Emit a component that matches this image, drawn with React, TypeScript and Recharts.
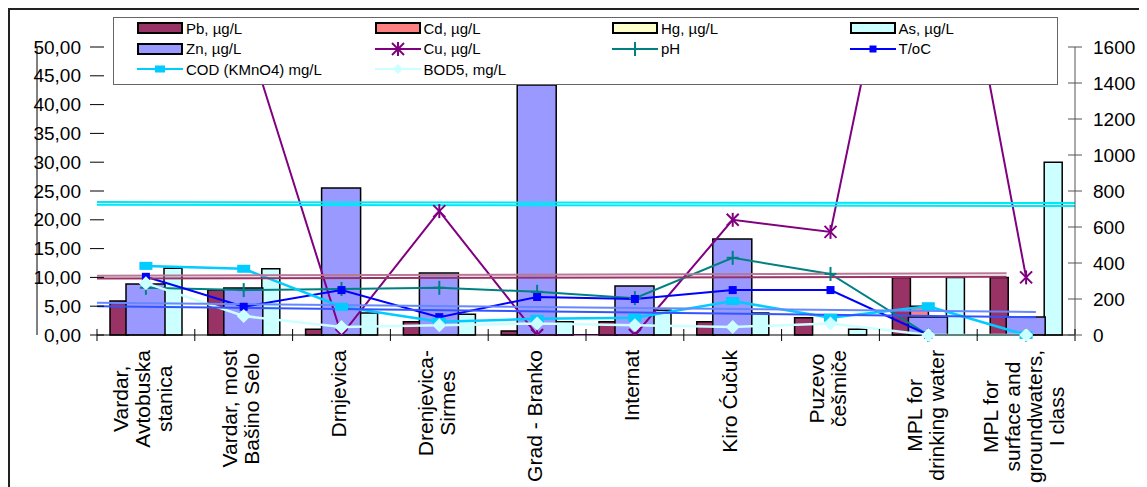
import React from "react";
import { ComposedChart, Bar, Line, XAxis, YAxis, Legend } from "recharts";

// sampling sites + the two limit columns
const categories = [
  "Vardar,\nAvtobuska\nstanica",
  "Vardar, most\nBašino Selo",
  "Drnjevica",
  "Drenjevica-\nSirmes",
  "Grad - Branko",
  "Internat",
  "Kiro Ćučuk",
  "Puzevo\nčešmiče",
  "MPL for\ndrinking water",
  "MPL for\nsurface and\ngroundwaters,\nI class",
];

// µg/L, left axis
const pb = [5.9, 7.8, 1.0, 2.3, 0.7, 2.3, 2.3, 3.0, 10, 10];
const cd = [0, 0, 0, 0, 0, 0, 0, 0, 5, 0];
const hg = [0, 0, 0, 0, 0, 0, 0, 0, 1, 0];
const arsenic = [11.6, 11.5, 3.8, 3.6, 2.3, 4.3, 3.8, 1.0, 10, 30];
const cu = [60, 54, 0, 21.5, 0, 0, 20, 17.9, 100, 10];
// µg/L, right axis
const zn = [283, 261, 816, 344, 1389, 272, 533, 0, 100, 100];
// other parameters, left axis
const ph = [8.2, 7.8, 8.0, 8.2, 7.5, 6.4, 13.4, 10.6, 0, 0];
const temp = [10.1, 4.9, 7.8, 3.1, 6.6, 6.25, 7.8, 7.8, 0, 0];
const cod = [12.0, 11.5, 4.9, 2.3, 2.8, 3.0, 5.9, 3.0, 5.0, 0];
const bod = [9.0, 3.3, 1.4, 1.7, 2.0, 1.7, 1.4, 2.0, 0, 0];

const leftTicks = [0, 5, 10, 15, 20, 25, 30, 35, 40, 45, 50];
const rightTicks = [0, 200, 400, 600, 800, 1000, 1200, 1400, 1600];

// stray straight lines across the plot: start/end value (left axis) and extent in % of width
const cyanUpper = [23.1, 22.9];
const cyanLower = [22.6, 22.4];
const maroonLight = [10.3, 10.7];
const maroonDark = [9.8, 10.1];
const blueLight = [5.6, 4.0];
const blueDark = [5.0, 3.1];
const fullSpan = [0, 100];
const maroonSpan = [0, 93];
const blueSpan = [0, 96];

const rows = categories.map((name, i) => ({
  name,
  pb: pb[i],
  cd: cd[i],
  hg: hg[i],
  as: arsenic[i],
  zn: zn[i],
  cu: cu[i],
  ph: ph[i],
  t: temp[i],
  cod: cod[i],
  bod: bod[i],
}));

const seg = (vals: number[], span: number[]) => [
  { p: span[0], v: vals[0] },
  { p: span[1], v: vals[1] },
];

const guides = [
  { id: "g1", color: "#00E8F8", data: seg(cyanUpper, fullSpan) },
  { id: "g2", color: "#00E8F8", data: seg(cyanLower, fullSpan) },
  { id: "g3", color: "#B87896", data: seg(maroonLight, maroonSpan) },
  { id: "g4", color: "#993366", data: seg(maroonDark, maroonSpan) },
  { id: "g5", color: "#6688FF", data: seg(blueLight, blueSpan) },
  { id: "g6", color: "#3355FF", data: seg(blueDark, blueSpan) },
];

const FONT = "Arial, 'Liberation Sans', sans-serif";
const W = 1132;
const H = 477;
const PLOT_LEFT = 87;
const PLOT_TOP = 37;
const PLOT_W = 978;
const PLOT_H = 288;
const PLOT_RIGHT = PLOT_LEFT + PLOT_W;
const PLOT_BOTTOM = PLOT_TOP + PLOT_H;
const BAND = PLOT_W / categories.length;
const AXIS_FS = 19;
const LABEL_FS = 21;
const LABEL_LH = 22;

let ctx: CanvasRenderingContext2D | null = null;
function textWidth(s: string, font: string) {
  if (!ctx) ctx = document.createElement("canvas").getContext("2d");
  if (!ctx) return s.length * 10;
  ctx.font = font;
  return ctx.measureText(s).width;
}

const fmtLeft = (v: number) => v.toFixed(2).replace(".", ",");

const LeftTick = (p: any) => {
  const { y, payload } = p;
  return (
    <g>
      <line x1={PLOT_LEFT - 7} x2={PLOT_LEFT + 7} y1={y} y2={y} stroke="#000" />
      <text x={PLOT_LEFT - 16} y={y} textAnchor="end" dominantBaseline="central" fontSize={AXIS_FS} fontFamily={FONT} fill="#000">
        {fmtLeft(payload.value)}
      </text>
    </g>
  );
};

const RightTick = (p: any) => {
  const { y, payload } = p;
  return (
    <g>
      <line x1={PLOT_RIGHT - 7} x2={PLOT_RIGHT + 7} y1={y} y2={y} stroke="#555" />
      <text x={PLOT_RIGHT + 18} y={y} textAnchor="start" dominantBaseline="central" fontSize={AXIS_FS} fontFamily={FONT} fill="#000">
        {payload.value}
      </text>
    </g>
  );
};

const CategoryTick = (p: any) => {
  const { x, payload } = p;
  const index = p.index ?? payload.index;
  const lines = String(payload.value).split("\n");
  const font = `${LABEL_FS}px ${FONT}`;
  const maxW = Math.max(...lines.map((l) => textWidth(l, font)));
  const n = lines.length;
  return (
    <g>
      <line x1={x - BAND / 2} x2={x - BAND / 2} y1={PLOT_BOTTOM - 6} y2={PLOT_BOTTOM + 6} stroke="#000" />
      {index === categories.length - 1 && (
        <line x1={x + BAND / 2} x2={x + BAND / 2} y1={PLOT_BOTTOM - 6} y2={PLOT_BOTTOM + 6} stroke="#000" />
      )}
      <g transform={`translate(${x - 3},${PLOT_BOTTOM}) rotate(-90)`}>
        {lines.map((l, i) => (
          <text
            key={i}
            x={-(15 + maxW / 2)}
            y={(i - (n - 1) / 2) * LABEL_LH}
            textAnchor="middle"
            dominantBaseline="central"
            fontSize={LABEL_FS}
            fontFamily={FONT}
            fill="#000"
          >
            {l}
          </text>
        ))}
      </g>
    </g>
  );
};

// markers
const asterisk = (p: any) => {
  const { cx, cy, index } = p;
  if (cx == null || cy == null) return <g key={`cu-${index}`} />;
  return (
    <g key={`cu-${index}`} stroke="#800080" strokeWidth={2}>
      <line x1={cx - 6} y1={cy - 6} x2={cx + 6} y2={cy + 6} />
      <line x1={cx - 6} y1={cy + 6} x2={cx + 6} y2={cy - 6} />
      <line x1={cx} y1={cy - 7} x2={cx} y2={cy + 7} />
    </g>
  );
};
const plus = (p: any) => {
  const { cx, cy, index } = p;
  return (
    <g key={`ph-${index}`} stroke="#008080" strokeWidth={2}>
      <line x1={cx - 6} y1={cy} x2={cx + 6} y2={cy} />
      <line x1={cx} y1={cy - 7} x2={cx} y2={cy + 7} />
    </g>
  );
};
const squareT = (p: any) => {
  const { cx, cy, index } = p;
  return <rect key={`t-${index}`} x={cx - 4} y={cy - 4} width={8} height={8} fill="#0000FF" />;
};
const squareCod = (p: any) => {
  const { cx, cy, index } = p;
  return <rect key={`cod-${index}`} x={cx - 6.5} y={cy - 4} width={13} height={8} fill="#00CCFF" />;
};
const diamond = (p: any) => {
  const { cx, cy, index } = p;
  return (
    <path key={`bod-${index}`} d={`M${cx},${cy - 7}L${cx + 7},${cy}L${cx},${cy + 7}L${cx - 7},${cy}Z`} fill="#CCFFFF" />
  );
};

type LegendEntry = { name: string; kind: "bar" | "line"; color: string; marker?: string };
const legendEntries: LegendEntry[] = [
  { name: "Pb, µg/L", kind: "bar", color: "#993366" },
  { name: "Cd, µg/L", kind: "bar", color: "#FF8080" },
  { name: "Hg, µg/L", kind: "bar", color: "#FFFFCC" },
  { name: "As, µg/L", kind: "bar", color: "#CCFFFF" },
  { name: "Zn, µg/L", kind: "bar", color: "#9999FF" },
  { name: "Cu, µg/L", kind: "line", color: "#800080", marker: "asterisk" },
  { name: "pH", kind: "line", color: "#008080", marker: "plus" },
  { name: "T/oC", kind: "line", color: "#0000FF", marker: "square" },
  { name: "COD (KMnO4) mg/L", kind: "line", color: "#00CCFF", marker: "rect" },
  { name: "BOD5, mg/L", kind: "line", color: "#CCFFFF", marker: "diamond" },
];

const LegendIcon = ({ e }: { e: LegendEntry }) => {
  if (e.kind === "bar") {
    return (
      <svg width={46} height={14}>
        <rect x={1} y={2} width={44} height={10} fill={e.color} stroke="#000" strokeWidth={2} />
      </svg>
    );
  }
  const cx = 23;
  const cy = 7;
  let m: React.ReactNode = null;
  if (e.marker === "asterisk") m = asterisk({ cx, cy, index: "l" });
  if (e.marker === "plus") m = plus({ cx, cy, index: "l" });
  if (e.marker === "square") m = <rect x={cx - 3.5} y={cy - 3.5} width={7} height={7} fill={e.color} />;
  if (e.marker === "rect") m = <rect x={cx - 5} y={cy - 3.5} width={10} height={7} fill={e.color} />;
  if (e.marker === "diamond") m = <path d={`M${cx},${cy - 5}L${cx + 5},${cy}L${cx},${cy + 5}L${cx - 5},${cy}Z`} fill={e.color} />;
  return (
    <svg width={46} height={14}>
      <line x1={0} x2={46} y1={cy} y2={cy} stroke={e.color} strokeWidth={2} />
      {m}
    </svg>
  );
};

const renderLegend = () => (
  <div
    style={{
      position: "relative",
      width: 945,
      height: 68,
      background: "#fff",
      border: "1px solid #666",
      boxSizing: "border-box",
      fontFamily: FONT,
      fontSize: 15,
      color: "#000",
    }}
  >
    {legendEntries.map((e, i) => {
      const col = i % 4;
      const row = Math.floor(i / 4);
      return (
        <div
          key={e.name}
          style={{
            position: "absolute",
            left: 23 + col * 237.5,
            top: 0 + row * 20.5,
            height: 20,
            display: "flex",
            alignItems: "center",
            whiteSpace: "nowrap",
          }}
        >
          <LegendIcon e={e} />
          <span style={{ marginLeft: 3 }}>{e.name}</span>
        </div>
      );
    })}
  </div>
);

export default function App() {
  return (
    <div
      style={{
        position: "relative",
        width: W + 4,
        height: H + 4,
        border: "2px solid #222",
        boxSizing: "border-box",
        background: "#fff",
        fontFamily: FONT,
      }}
    >
      <ComposedChart
        width={W}
        height={H}
        data={rows}
        margin={{ top: PLOT_TOP, right: 0, bottom: 0, left: 0 }}
        barGap={0}
      >
        <XAxis
          xAxisId="main"
          dataKey="name"
          height={H - PLOT_TOP - PLOT_H}
          interval={0}
          tickLine={false}
          axisLine={{ stroke: "#000" }}
          tick={CategoryTick}
        />
        <XAxis xAxisId="zn" dataKey="name" hide />
        <XAxis xAxisId="pct" type="number" dataKey="p" domain={[0, 100]} allowDataOverflow hide />
        <YAxis
          yAxisId="left"
          orientation="left"
          width={PLOT_LEFT}
          domain={[0, 50]}
          ticks={leftTicks}
          interval={0}
          tickLine={false}
          axisLine={{ stroke: "#000" }}
          tick={LeftTick}
        />
        <YAxis
          yAxisId="right"
          orientation="right"
          width={W - PLOT_RIGHT}
          domain={[0, 1600]}
          ticks={rightTicks}
          interval={0}
          tickLine={false}
          axisLine={{ stroke: "#555" }}
          tick={RightTick}
        />
        <YAxis yAxisId="cu" domain={[0, 50]} allowDataOverflow hide />

        <Bar xAxisId="main" yAxisId="left" dataKey="pb" fill="#993366" stroke="#000" strokeWidth={1.5} barSize={18} isAnimationActive={false} />
        <Bar xAxisId="main" yAxisId="left" dataKey="cd" fill="#FF8080" stroke="#000" strokeWidth={1.5} barSize={18} isAnimationActive={false} />
        <Bar xAxisId="main" yAxisId="left" dataKey="hg" fill="#FFFFCC" stroke="#000" strokeWidth={1.5} barSize={18} isAnimationActive={false} />
        <Bar xAxisId="main" yAxisId="left" dataKey="as" fill="#CCFFFF" stroke="#000" strokeWidth={1.5} barSize={18} isAnimationActive={false} />
        <Bar xAxisId="zn" yAxisId="right" dataKey="zn" fill="#9999FF" stroke="#000" strokeWidth={1.5} barSize={39} isAnimationActive={false} />

        <Line xAxisId="main" yAxisId="cu" dataKey="cu" stroke="#800080" strokeWidth={2} dot={asterisk} isAnimationActive={false} />
        <Line xAxisId="main" yAxisId="left" dataKey="ph" stroke="#008080" strokeWidth={2} dot={plus} isAnimationActive={false} />
        <Line xAxisId="main" yAxisId="left" dataKey="t" stroke="#0000FF" strokeWidth={2} dot={squareT} isAnimationActive={false} />
        <Line xAxisId="main" yAxisId="left" dataKey="cod" stroke="#00CCFF" strokeWidth={2.5} dot={squareCod} isAnimationActive={false} />
        <Line xAxisId="main" yAxisId="left" dataKey="bod" stroke="#CCFFFF" strokeWidth={2.5} dot={diamond} isAnimationActive={false} />

        {guides.map((g) => (
          <Line
            key={g.id}
            xAxisId="pct"
            yAxisId="left"
            data={g.data}
            dataKey="v"
            stroke={g.color}
            strokeWidth={2}
            dot={false}
            isAnimationActive={false}
          />
        ))}

        <Legend
          layout="horizontal"
          verticalAlign="middle"
          align="center"
          content={renderLegend}
          wrapperStyle={{ top: 7, left: 103, width: 945, height: 68 }}
        />
      </ComposedChart>
    </div>
  );
}
